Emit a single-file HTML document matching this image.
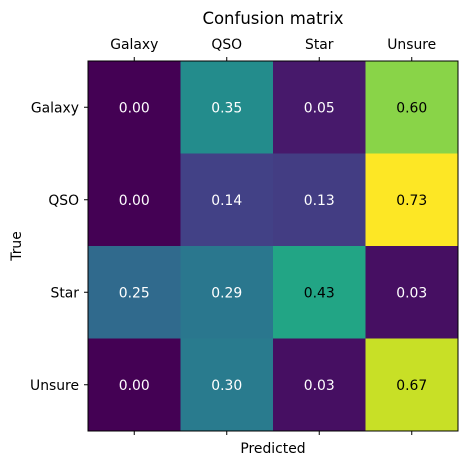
<!DOCTYPE html>
<html><head><meta charset="utf-8"><style>
html,body{margin:0;padding:0;background:#fff;}
svg{display:block;font-family:"DejaVu Sans","Liberation Sans",sans-serif;}
</style></head><body>
<svg id="chart" width="467" height="465" viewBox="0 0 467 465">
<text x="273" y="24" font-size="16.5" text-anchor="middle" fill="#000">Confusion matrix</text>
<g id="cells"></g>
<g id="axes"></g>
<rect x="88" y="61" width="370" height="370" fill="none" stroke="#000" stroke-width="1"/>
<text x="273" y="453" font-size="13.9" text-anchor="middle">Predicted</text>
<text transform="translate(21,246) rotate(-90)" font-size="13.9" text-anchor="middle">True</text>
</svg>
<script>
const predictedLabels = ["Galaxy","QSO","Star","Unsure"];
const trueLabels = ["Galaxy","QSO","Star","Unsure"];
const rowGalaxy = [0.00,0.35,0.05,0.60];
const rowQSO = [0.00,0.14,0.13,0.73];
const rowStar = [0.25,0.29,0.43,0.03];
const rowUnsure = [0.00,0.30,0.03,0.67];
const matrix = [rowGalaxy,rowQSO,rowStar,rowUnsure];

const ns="http://www.w3.org/2000/svg";
const X0=88,Y0=61,W=370,H=370;
const nc=predictedLabels.length, nr=trueLabels.length;
const cw=W/nc, ch=H/nr;
const xPos=i=>X0+i*cw, yPos=j=>Y0+j*ch;
const vmin=Math.min(...matrix.flat()), vmax=Math.max(...matrix.flat());
const vir=["#440154","#482475","#414487","#355f8d","#2a788e","#21918c","#22a884","#44bf70","#7ad151","#bddf26","#fde725"];
function hex(h){return [1,3,5].map(k=>parseInt(h.substr(k,2),16));}
function viridis(t){t=Math.max(0,Math.min(1,t));const p=t*10,i=Math.min(9,Math.floor(p)),f=p-i;
 const a=hex(vir[i]),b=hex(vir[i+1]);return "rgb("+a.map((v,k)=>Math.round(v+(b[k]-v)*f)).join(",")+")";}
const cells=document.getElementById("cells"), axes=document.getElementById("axes");
const thresh=(vmin+vmax)/2;
matrix.forEach((row,j)=>row.forEach((v,i)=>{
 const r=document.createElementNS(ns,"rect");
 r.setAttribute("x",xPos(i));r.setAttribute("y",yPos(j));
 r.setAttribute("width",cw+0.5);r.setAttribute("height",ch+0.5);
 r.setAttribute("fill",viridis((v-vmin)/(vmax-vmin)));
 
 
 cells.appendChild(r);
 const t=document.createElementNS(ns,"text");
 t.setAttribute("x",xPos(i)+cw/2);t.setAttribute("y",yPos(j)+ch/2+5);
 t.setAttribute("text-anchor","middle");t.setAttribute("font-size","13.9");
 t.setAttribute("fill",v>thresh?"#000":"#fff");
 t.textContent=v.toFixed(2);
 
 
 cells.appendChild(t);
}));
predictedLabels.forEach((lab,i)=>{
 const cx=xPos(i)+cw/2;
 [[Y0,Y0-4],[Y0+H,Y0+H+4]].forEach(([a,b])=>{
  const l=document.createElementNS(ns,"line");
  l.setAttribute("x1",cx);l.setAttribute("x2",cx);l.setAttribute("y1",a);l.setAttribute("y2",b);
  l.setAttribute("stroke","#000");
  
  
  axes.appendChild(l);
 });
 const t=document.createElementNS(ns,"text");
 t.setAttribute("x",cx);t.setAttribute("y",Y0-12);t.setAttribute("text-anchor","middle");t.setAttribute("font-size","13.9");
 t.textContent=lab;
 
 
 axes.appendChild(t);
});
trueLabels.forEach((lab,j)=>{
 const cy=yPos(j)+ch/2;
 const l=document.createElementNS(ns,"line");
 l.setAttribute("x1",X0-4);l.setAttribute("x2",X0);l.setAttribute("y1",cy);l.setAttribute("y2",cy);
 l.setAttribute("stroke","#000");
 
 
 axes.appendChild(l);
 const t=document.createElementNS(ns,"text");
 t.setAttribute("x",X0-9);t.setAttribute("y",cy+5);t.setAttribute("text-anchor","end");t.setAttribute("font-size","13.9");
 t.textContent=lab;
 
 
 axes.appendChild(t);
});
</script>
</body></html>
